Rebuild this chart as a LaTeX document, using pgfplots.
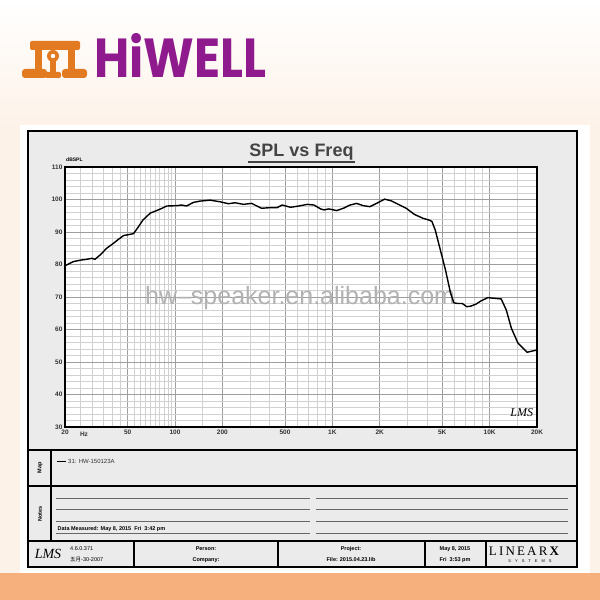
\documentclass[border=0pt]{standalone}
\usepackage{pgfplots}
\pgfplotsset{compat=1.18}
\usepackage{fontspec}
\setmainfont{Liberation Sans}
\newfontfamily\cjk{Noto Sans CJK SC}
\newfontfamily\popp{Poppins}
\newfontfamily\serifit{Liberation Serif}
\definecolor{framegray}{HTML}{EBEBEB}
\definecolor{hpurple}{HTML}{8E1A8E}
\definecolor{horange}{HTML}{E27A22}
\definecolor{band}{HTML}{F6B07E}
\definecolor{peach}{HTML}{FDF2E8}
\definecolor{titlegray}{HTML}{444444}
\begin{document}
\begin{tikzpicture}[x=1pt,y=1pt]
% background
\fill[peach] (0,27) rectangle (600,470);
\shade[top color=white,bottom color=peach] (0,470) rectangle (600,600);
\fill[band] (0,0) rectangle (600,27);
\fill[white] (20,27) rectangle (590,475);
% logo mark (orange)
\begin{scope}[horange]
\fill[rounded corners=3pt] (22,600-78) rectangle (47,600-69);
\fill (35,600-72) rectangle (42,600-47);
\fill[rounded corners=2pt] (30,600-50) rectangle (80,600-41);
\fill (68,600-72) rectangle (75,600-47);
\fill[rounded corners=3pt] (62,600-78) rectangle (87,600-69);
\fill (53,600-56) circle (6);
\fill (50,600-74) rectangle (56,600-60);
\fill[rounded corners=2pt] (45,600-78) rectangle (61,600-72);
\end{scope}
\fill[white] (53,600-56) circle (2.2);
\node[anchor=base west,inner sep=0pt,text=hpurple] at (94,600-78)
  {\resizebox{172pt}{44pt}{\popp\bfseries HiWELL}};
% frame
\draw[line width=2.5pt,fill=framegray] (28,469) rectangle (577,33);
\draw[line width=2pt] (28,150) -- (577,150);
\draw[line width=2pt] (28,114) -- (577,114);
\draw[line width=2.2pt] (28,59) -- (577,59);
\draw[line width=2pt] (51,150) -- (51,59);
\foreach \xx in {134,278,425,486} \draw[line width=1.6pt] (\xx,59) -- (\xx,33);
% title
\node[text=titlegray,font=\fontsize{18}{20}\selectfont\bfseries] at (301.5,600-152) {SPL vs Freq};
\draw[titlegray,line width=1.8pt] (248,600-162) -- (355,600-162);
\node[font=\fontsize{5}{6}\selectfont\bfseries,anchor=base west,inner sep=0pt] at (66,600-162) {dBSPL};
% axis
\begin{axis}[
  at={(65pt,173pt)}, anchor=south west, scale only axis,
  width=472pt, height=260pt,
  xmode=log, xmin=20, xmax=20000, ymin=30, ymax=110,
  axis background/.style={fill=white},
  axis line style={black, line width=1.2pt},
  xtick={20,50,100,200,500,1000,2000,5000,10000,20000},
  xticklabels={20,50,100,200,500,1K,2K,5K,10K,20K},
  minor xtick={25,30,35,40,45,55,60,65,70,75,80,85,90,95,150,300,400,600,700,800,900,3000,4000,6000,7000,8000,9000,15000},
  ytick={30,40,50,60,70,80,90,100,110},
  minor ytick={32,34,36,38,42,44,46,48,52,54,56,58,62,64,66,68,72,74,76,78,82,84,86,88,92,94,96,98,102,104,106,108},
  grid=both,
  major grid style={draw=black!38, line width=0.7pt},
  minor grid style={draw=black!18, line width=0.5pt},
  major tick length=0pt, minor tick length=0pt,
  tick label style={font=\fontsize{6.5}{7.5}\selectfont\bfseries, text=black!80},
  /pgf/number format/assume math mode=true,
  yticklabel style={xshift=1pt},
  xticklabel style={yshift=1pt},
]
\node[text=black!30,font=\fontsize{25}{28}\selectfont] at (axis cs:624,69.7) {hw–speaker.en.alibaba.com};
\node[font=\fontsize{12}{14}\selectfont\serifit\itshape] at (axis cs:16000,34.5) {LMS};
\addplot[black, line width=1.4pt] coordinates {
(20,79.6) (22.6,80.9) (25.5,81.4) (27.5,81.6) (29.6,81.9) (31,81.6) (33.4,82.9)
(36.8,85.0) (40.6,86.5) (43.6,87.7) (47.1,88.9) (50.7,89.2) (54.5,89.5)
(58.6,91.6) (62.6,93.7) (69.6,95.8) (76.5,96.6) (82.8,97.3) (88.6,98.0)
(102.6,98.1) (110,98.3) (118.6,98.0) (130.7,99.1) (144,99.5) (167,99.8)
(193.5,99.3) (218.8,98.7) (241,99.0) (272.6,98.5) (307,98.8) (355,97.3)
(404,97.5) (445,97.5) (480,98.3) (543,97.6) (614,98.0) (694,98.5) (764,98.3)
(843,97.1) (885,96.8) (950,97.1) (1067,96.6) (1176,97.3) (1296,98.3)
(1428,98.8) (1573,98.1) (1733,97.8) (1910,98.8) (2150,100.1) (2370,99.6)
(2680,98.3) (2950,97.3) (3330,95.4) (3780,94.2) (4170,93.6) (4300,93.2)
(4510,90.6) (4860,84.5) (5240,78.3) (5650,71.1) (5930,68.2) (6290,68.0)
(6700,68.0) (7160,67.0) (7600,67.2) (8180,67.8) (8810,68.8) (9730,69.8)
(10740,69.6) (11840,69.4) (12760,66.0) (13740,60.4) (15140,55.8)
(17300,53.0) (20000,53.7)
};
\end{axis}
\node[font=\fontsize{6.5}{7.5}\selectfont\bfseries,text=black!80] at (84,600-434.5) {Hz};
% map panel
\node[rotate=90,font=\fontsize{5.5}{6}\selectfont\bfseries] at (40,600-468) {Map};
\draw[line width=0.8pt] (57,600-461) -- (66,600-461);
\node[anchor=west,inner sep=1pt,text=black!80,font=\fontsize{6}{7}\selectfont] at (67,600-461) {31: HW-150123A};
% notes panel
\node[rotate=90,font=\fontsize{5.5}{6}\selectfont\bfseries] at (40,600-514) {Notes};
\foreach \yy in {102,90.5,79,67} {
  \draw[black!60,line width=0.7pt] (56,\yy) -- (310,\yy);
  \draw[black!60,line width=0.7pt] (316,\yy) -- (568,\yy);
}
\node[anchor=south west,inner sep=0.5pt,font=\fontsize{5.5}{6}\selectfont\bfseries] at (57,67.3) {Data Measured: May 8, 2015 \ Fri \ 3:42 pm};
% footer
\node[font=\fontsize{14}{15}\selectfont\serifit\itshape] at (48,46) {LMS};
\node[anchor=west,inner sep=0pt,font=\fontsize{5.5}{6}\selectfont] at (70,51) {4.6.0.371};
\node[anchor=west,inner sep=0pt,font=\fontsize{5.5}{6}\selectfont] at (70,40) {{\cjk 五月}-30-2007};
\node[font=\fontsize{5.5}{6}\selectfont\bfseries] at (206,51) {Person:};
\node[font=\fontsize{5.5}{6}\selectfont\bfseries] at (206,40) {Company:};
\node[font=\fontsize{5.5}{6}\selectfont\bfseries] at (351,51) {Project:};
\node[font=\fontsize{5.5}{6}\selectfont\bfseries] at (351,40) {File: 2015.04.23.lib};
\node[font=\fontsize{5.5}{6}\selectfont\bfseries] at (455,51) {May 8, 2015};
\node[font=\fontsize{5.5}{6}\selectfont\bfseries] at (455,40) {Fri \ 3:53 pm};
\node[font=\fontsize{13}{14}\selectfont\serifit] at (524,49) {L\,I\,N\,E\,A\,R\,\textbf{X}};
\node[font=\fontsize{4}{5}\selectfont] at (530,38.5) {S\quad Y\quad S\quad T\quad E\quad M\quad S};
\end{tikzpicture}
\end{document}
